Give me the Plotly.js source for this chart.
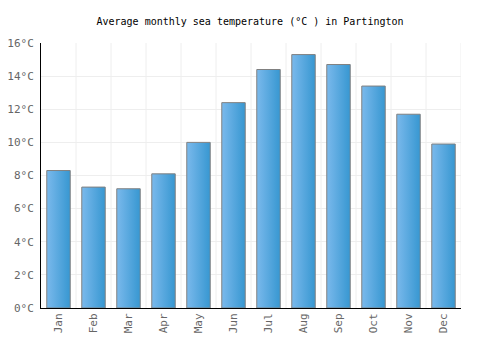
<!DOCTYPE html>
<html>
<head>
<meta charset="utf-8">
<script src="https://cdn.plot.ly/plotly-3.0.1.min.js"></script>
<style>html,body{margin:0;padding:0;background:#fff;}#chart{width:500px;height:350px;}</style>
</head>
<body>
<div id="chart"></div>
<script>
const months = ["Jan","Feb","Mar","Apr","May","Jun","Jul","Aug","Sep","Oct","Nov","Dec"];
const seaTemp = [8.3, 7.3, 7.2, 8.1, 10.0, 12.4, 14.4, 15.3, 14.7, 13.4, 11.7, 9.9];
const yTickVals = [0, 2, 4, 6, 8, 10, 12, 14, 16];
const yTickText = yTickVals.map(v => v + "°C");

const font = "DejaVu Sans Mono, monospace";
const trace = {
  type: "bar",
  x: months,
  y: seaTemp,
  marker: { color: "#55a6e0", line: { color: "#808080", width: 1 } },
  hoverinfo: "none"
};
const layout = {
  width: 500, height: 350,
  margin: { l: 41, r: 39, t: 43, b: 42 },
  paper_bgcolor: "#fff", plot_bgcolor: "#fff",
  title: { text: "Average monthly sea temperature (°C ) in Partington", font: { family: font, size: 10, color: "#000" }, x: 0.5, xanchor: "center", y: 0.94, yanchor: "middle" },
  bargap: 0.33,
  showlegend: false,
  xaxis: {
    type: "category", tickangle: -90, showline: true, linecolor: "#000", linewidth: 1,
    showgrid: false, ticks: "", tickfont: { family: font, size: 11, color: "#666" },
    range: [-0.5, 11.5], fixedrange: true
  },
  yaxis: {
    range: [0, 16], tickvals: yTickVals, ticktext: yTickText, showline: true, linecolor: "#000", linewidth: 1,
    gridcolor: "#eeeeee", gridwidth: 1, zeroline: false, ticks: "", tickfont: { family: font, size: 11, color: "#666" },
    ticklabelstandoff: 4, fixedrange: true
  },
  shapes: months.slice(1).map((m, i) => ({
    type: "line", xref: "x", yref: "paper", x0: i + 0.5, x1: i + 0.5, y0: 0, y1: 1,
    line: { color: "#eeeeee", width: 1 }, layer: "below"
  })).concat([{ type: "line", xref: "x", yref: "paper", x0: 11.5, x1: 11.5, y0: 0, y1: 1, line: { color: "#eeeeee", width: 1 }, layer: "below" }])
};
Plotly.newPlot("chart", [trace], layout, { displayModeBar: false, staticPlot: true }).then(gd => {
  const svg = gd.querySelector("svg.main-svg");
  const ns = "http://www.w3.org/2000/svg";
  let defs = svg.querySelector("defs");
  if (!defs) { defs = document.createElementNS(ns, "defs"); svg.insertBefore(defs, svg.firstChild); }
  const lg = document.createElementNS(ns, "linearGradient");
  lg.setAttribute("id", "barGrad");
  lg.setAttribute("x1", "0"); lg.setAttribute("y1", "0"); lg.setAttribute("x2", "1"); lg.setAttribute("y2", "0");
  [["0%", "#7ab9ec"], ["100%", "#3797d1"]].forEach(([o, c]) => {
    const s = document.createElementNS(ns, "stop");
    s.setAttribute("offset", o); s.setAttribute("stop-color", c);
    lg.appendChild(s);
  });
  defs.appendChild(lg);
  gd.querySelectorAll(".bars .point path").forEach(p => { p.style.fill = "url(#barGrad)"; });
});
</script>
</body>
</html>
